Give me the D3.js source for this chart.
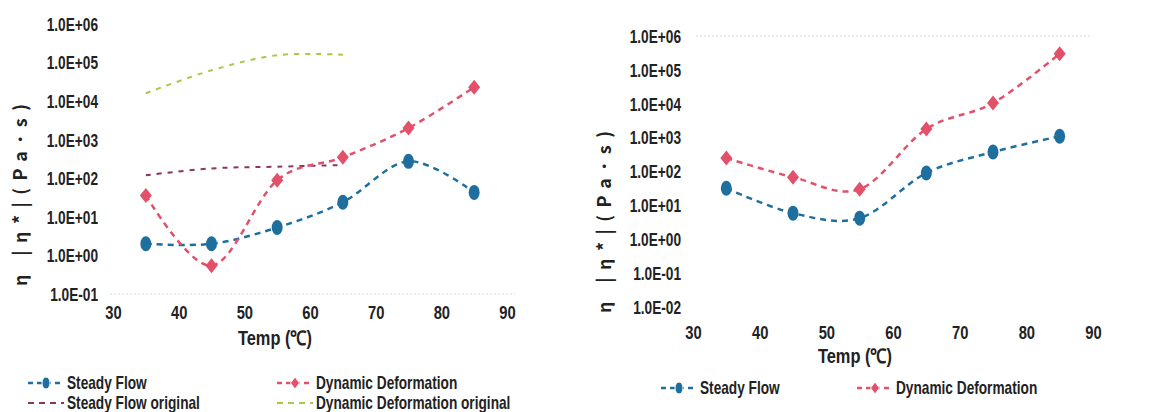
<!DOCTYPE html>
<html>
<head>
<meta charset="utf-8">
<script src="https://cdn.jsdelivr.net/npm/d3@7"></script>
<style>
  html, body { margin: 0; padding: 0; background: #ffffff; }
  svg text { font-family: "Liberation Sans", Arial, sans-serif; font-weight: bold; fill: #222; }
</style>
</head>
<body>
<svg id="chart" width="1157" height="412"></svg>
<script>
// Temperatures (°C) at which viscosity was measured
const temps = [35, 45, 55, 65, 75, 85];
const originalTemps = [35, 45, 55, 65];

// Left panel: viscosity η / |η*| (Pa·s)
const steadyLeft = [2, 2, 5.3, 24, 275, 43];
const dynamicLeft = [36, 0.54, 89, 350, 2000, 23000];
const steadyOriginal = [120, 180, 200, 220];
const dynamicOriginal = [16000, 63000, 155000, 160000];

// Right panel: viscosity η / |η*| (Pa·s)
const steadyRight = [32, 5.9, 4.2, 90, 375, 1100];
const dynamicRight = [250, 68, 30, 1800, 10500, 300000];

// Axis ticks
const xTicks = [30, 40, 50, 60, 70, 80, 90];
const yTicksLeft = [1e-1, 1e0, 1e1, 1e2, 1e3, 1e4, 1e5, 1e6];
const yTicksRight = [1e-2, 1e-1, 1e0, 1e1, 1e2, 1e3, 1e4, 1e5, 1e6];

const BLUE = "#1f6f9e";
const PINK = "#e2506a";
const MAROON = "#8a3560";
const LIME = "#a9c84a";

// horizontal squeeze for the narrow label face
const SQ = 0.76;

const svg = d3.select("#chart");

function sciLabel(v) {
  const e = Math.round(Math.log10(v));
  const sign = e < 0 ? "-" : "+";
  return "1.0E" + sign + String(Math.abs(e)).padStart(2, "0");
}

const curve = d3.curveCardinal.tension(0);

function narrowText(parent, x, y, str, size, anchor, k) {
  return parent.append("text")
    .attr("transform", `translate(${x},${y}) scale(${k || SQ},1)`)
    .attr("text-anchor", anchor || "start").attr("dy", "0.35em")
    .style("font-size", size + "px")
    .text(str);
}

function panel(cfg) {
  const x = d3.scaleLinear().domain([30, 90]).range([cfg.x0, cfg.x1]);
  const y = d3.scaleLog().domain([cfg.yTicks[0], 1e6]).range([cfg.y0, cfg.y1]);
  const g = svg.append("g");

  // faint grid line
  g.append("line")
    .attr("x1", cfg.gridX0).attr("x2", cfg.gridX1)
    .attr("y1", y(cfg.gridAt)).attr("y2", y(cfg.gridAt))
    .attr("stroke", "#d8d8d8").attr("stroke-width", 1)
    .attr("stroke-dasharray", "2,2");

  // y axis
  const ya = g.append("g")
    .attr("transform", `translate(${cfg.yLabelX},0)`)
    .call(d3.axisLeft(y).tickValues(cfg.yTicks).tickFormat(sciLabel).tickSize(0).tickPadding(0));
  ya.select(".domain").remove();
  ya.selectAll("text").attr("x", null).attr("transform", `scale(${SQ},1)`)
    .style("font-size", "18px").attr("dy", "0.35em");

  // x axis
  const xa = g.append("g")
    .attr("transform", `translate(0,${cfg.xLabelY})`)
    .call(d3.axisBottom(x).tickValues(xTicks).tickFormat(d3.format("d")).tickSize(0).tickPadding(0));
  xa.select(".domain").remove();
  xa.selectAll("text").attr("y", null).attr("transform", `scale(0.82,1)`)
    .style("font-size", "18px").attr("dy", "0.35em");

  // axis titles
  narrowText(g, cfg.xTitleX, cfg.xTitleY, "Temp (℃)", 20, "middle", 0.82);

  g.append("text")
    .attr("transform", `translate(${cfg.yTitleX},${cfg.yTitleY}) rotate(-90)`)
    .attr("text-anchor", "middle").attr("dy", "0.35em")
    .attr("textLength", 182).attr("lengthAdjust", "spacing")
    .style("font-family", "'Noto Sans CJK JP', sans-serif")
    .style("font-size", "18px")
    .text("η  |η*|(Pa･s)");

  const line = d3.line().curve(curve).x(d => x(d[0])).y(d => y(d[1]));

  cfg.series.forEach(s => {
    const pts = s.t.map((t, i) => [t, s.v[i]]);
    g.append("path")
      .attr("d", line(pts))
      .attr("fill", "none")
      .attr("stroke", s.color)
      .attr("stroke-width", s.width)
      .attr("stroke-dasharray", s.dash);
    if (s.marker === "circle") {
      g.selectAll(null).data(pts).join("ellipse")
        .attr("cx", d => x(d[0])).attr("cy", d => y(d[1]))
        .attr("rx", 5.5).attr("ry", 7.5).attr("fill", s.color);
    } else if (s.marker === "diamond") {
      g.selectAll(null).data(pts).join("path")
        .attr("transform", d => `translate(${x(d[0])},${y(d[1])})`)
        .attr("d", "M0,-7.5L6,0L0,7.5L-6,0Z").attr("fill", s.color);
    }
  });

  // legend
  cfg.legend.forEach(l => {
    const lg = g.append("g").attr("transform", `translate(${l.x},${l.y})`);
    lg.append("line").attr("x1", 0).attr("x2", 36).attr("y1", 0).attr("y2", 0)
      .attr("stroke", l.s.color).attr("stroke-width", l.s.width)
      .attr("stroke-dasharray", l.s.marker ? "5,4" : "6,5");
    if (l.s.marker === "circle") {
      lg.append("ellipse").attr("cx", 18).attr("cy", 0).attr("rx", 4).attr("ry", 6).attr("fill", l.s.color)
        .attr("stroke", "#fff").attr("stroke-width", 1);
    } else if (l.s.marker === "diamond") {
      lg.append("path").attr("transform", "translate(18,0)")
        .attr("d", "M0,-6L4.5,0L0,6L-4.5,0Z").attr("fill", l.s.color)
        .attr("stroke", "#fff").attr("stroke-width", 1);
    }
    narrowText(lg, 39, 0, l.label, 18, "start");
  });
}

const sLeft = { t: temps, v: steadyLeft, color: BLUE, width: 2.5, dash: "6,5", marker: "circle" };
const dLeft = { t: temps, v: dynamicLeft, color: PINK, width: 2.5, dash: "6,5", marker: "diamond" };
const sOrig = { t: originalTemps, v: steadyOriginal, color: MAROON, width: 2, dash: "5,6" };
const dOrig = { t: originalTemps, v: dynamicOriginal, color: LIME, width: 2, dash: "5,6" };

panel({
  x0: 113, x1: 507, y0: 294, y1: 24,
  yTicks: yTicksLeft, yLabelX: 98, xLabelY: 313, xTitleX: 275, xTitleY: 338,
  gridAt: 1e-1, gridX0: 110, gridX1: 515,
  yTitleX: 21, yTitleY: 195,
  series: [sOrig, dOrig, sLeft, dLeft],
  legend: [
    { x: 28, y: 383, s: sLeft, label: "Steady  Flow" },
    { x: 277, y: 383, s: dLeft, label: "Dynamic Deformation" },
    { x: 28, y: 403, s: sOrig, label: "Steady Flow original" },
    { x: 277, y: 403, s: dOrig, label: "Dynamic Deformation  original" }
  ]
});

const sRight = { t: temps, v: steadyRight, color: BLUE, width: 2.5, dash: "6,5", marker: "circle" };
const dRight = { t: temps, v: dynamicRight, color: PINK, width: 2.5, dash: "6,5", marker: "diamond" };

panel({
  x0: 693, x1: 1093, y0: 307, y1: 36,
  yTicks: yTicksRight, yLabelX: 681, xLabelY: 333, xTitleX: 855, xTitleY: 356,
  gridAt: 1e6, gridX0: 696, gridX1: 1090,
  yTitleX: 605, yTitleY: 222,
  series: [sRight, dRight],
  legend: [
    { x: 661, y: 388, s: sRight, label: "Steady Flow" },
    { x: 857, y: 388, s: dRight, label: "Dynamic Deformation" }
  ]
});
</script>
</body>
</html>
